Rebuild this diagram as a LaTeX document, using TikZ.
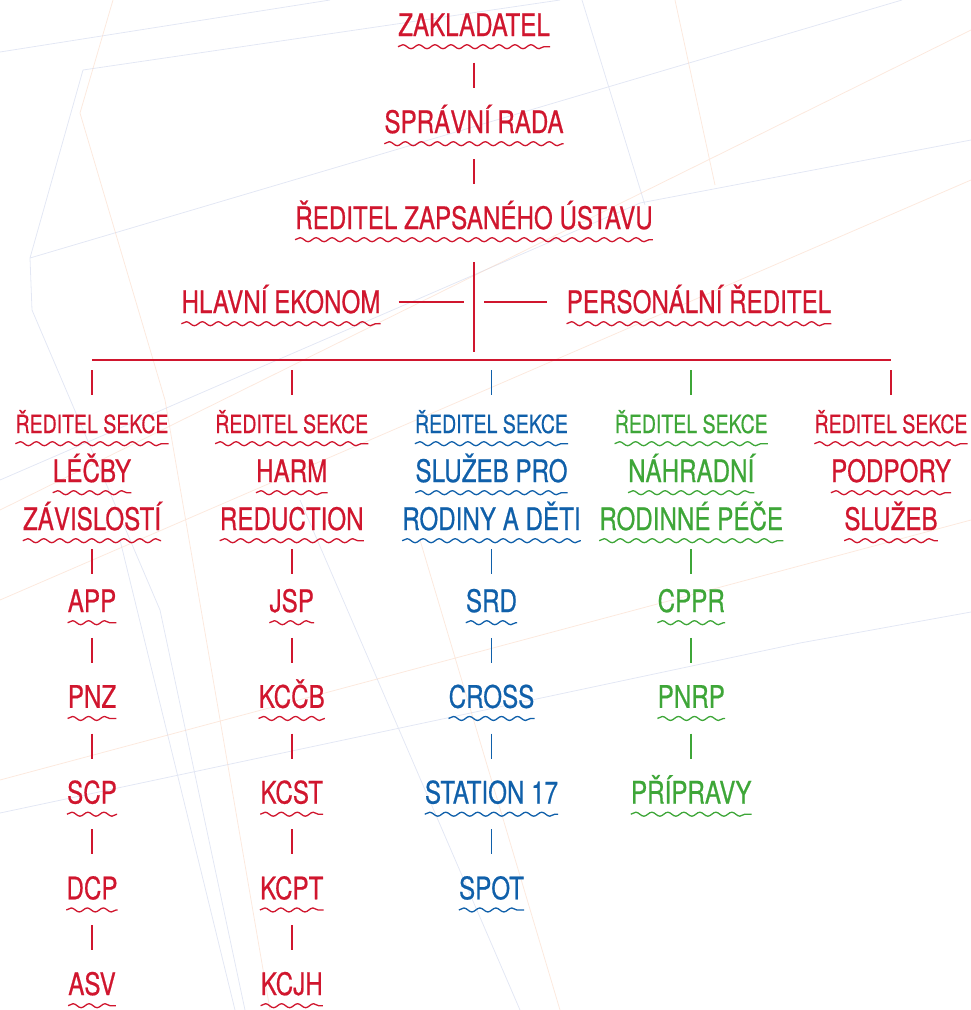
\documentclass[tikz,border=0pt]{standalone}
\usepackage{fontspec}
\setmainfont{TeX Gyre Heros}[FakeStretch=0.78, FakeBold=0.6]
\usetikzlibrary{decorations.pathmorphing,calc}

\definecolor{orgred}{RGB}{208,22,46}
\definecolor{orgblue}{RGB}{16,96,170}
\definecolor{orggreen}{RGB}{62,166,56}
\definecolor{bgblue}{RGB}{200,208,234}
\definecolor{bgorange}{RGB}{249,212,190}

\begin{document}
\begin{tikzpicture}[x=1pt, y=-1pt, declare function={dx=199.75; cx=474;},
  big/.style={anchor=base, inner sep=0pt, text height=22pt, text depth=0pt,
              font=\fontsize{31}{31}\selectfont},
  small/.style={big, text height=17pt, font=\fontsize{25}{25}\selectfont},
  wave/.style={decorate, decoration={snake, segment length=16pt, amplitude=2pt},
               line width=1.3pt},
  link/.style={line width=1.8pt}]

\useasboundingbox (0,0) rectangle (971,1010);

% 0. faint lines in the back
\begin{scope}[line width=.8pt, opacity=.5]
  \draw[bgblue] (0,52) -- (330,0)
                (83,70) -- (560,0)
                (83,70) -- (30,258) -- (32,310) -- (160,610) -- (245,1010)
                (30,258) -- (902,0)
                (0,480) -- (640,203) -- (971,140)
                (0,813) -- (800,643) -- (971,612)
                (582,0) -- (645,205)
                (120,540) -- (235,1010)
                (300,500) -- (520,1010);
  \draw[bgorange] (113,0) -- (80,113) -- (165,400) -- (270,1010)
                  (0,510) -- (971,30)
                  (0,600) -- (971,180)
                  (675,0) -- (715,185)
                  (0,780) -- (971,520)
                  (420,540) -- (560,1010);
\end{scope}

% 1. top of the chart
\begin{scope}[orgred]
  \node[big] (zakl)  at (cx,36)  {ZAKLADATEL};
  \node[big] (rada)  at (cx,133) {SPRÁVNÍ RADA};
  \node[big] (redit) at (cx,229) {ŘEDITEL ZAPSANÉHO ÚSTAVU};
  \node[big] (ekon)  at (281,313) {HLAVNÍ EKONOM};
  \node[big] (pers)  at (699,313) {PERSONÁLNÍ ŘEDITEL};
  \foreach \n in {zakl,rada,redit,ekon,pers}
    \draw[wave] ($(\n.south west)+(0,10.5)$) -- ($(\n.south east)+(0,10.5)$);

  % 1.1. links between them
  \draw[link] ($(zakl.south)!.5!(rada.north)$) ++(0,-11) -- ++(0,25);
  \draw[link] ($(rada.south)!.5!(redit.north)$) ++(0,-11) -- ++(0,25);
  \coordinate (stemtop) at ($(redit.south)+(0,33)$);
  \coordinate (stembot) at (cx,352);
  \draw[link] (stemtop) -- (stembot);
  \draw[link, shorten <=18pt, shorten >=10pt] (ekon.east) -- (ekon.east -| stemtop);
  \draw[link, shorten <=20pt, shorten >=10pt] (pers.west) -- (pers.west -| stemtop);
\end{scope}

% 2. the bar and the five sections
\foreach \i in {1,...,5}
  \coordinate (col\i) at ({92+(\i-1)*dx},360);
\draw[orgred, line width=1.5pt] (col1) -- (col5);

\foreach \i/\clr/\a/\b in {1/orgred/LÉČBY/ZÁVISLOSTÍ, 2/orgred/HARM/REDUCTION,
                           3/orgblue/SLUŽEB PRO/RODINY A DĚTI,
                           4/orggreen/NÁHRADNÍ/RODINNÉ PÉČE, 5/orgred/PODPORY/SLUŽEB}{
  \node[small, \clr] (sek\i)  at ($(col\i)+(0,73)$)  {ŘEDITEL SEKCE};
  \node[big, \clr]   (sekA\i) at ($(col\i)+(0,122)$) {\a};
  \node[big, \clr]   (sekB\i) at ($(col\i)+(0,170)$) {\b};
  \draw[\clr, link] (col\i) ++(0,10) -- ++(0,25);
  \foreach \n in {sek\i,sekA\i,sekB\i}
    \draw[\clr, wave] ($(\n.south west)+(0,10.5)$) -- ($(\n.south east)+(0,10.5)$);
}

% 3. the units below each section
\foreach \i/\clr/\items in {1/orgred/{APP,PNZ,SCP,DCP,ASV},
                            2/orgred/{JSP,KCČB,KCST,KCPT,KCJH},
                            3/orgblue/{SRD,CROSS,STATION 17,SPOT},
                            4/orggreen/{CPPR,PNRP,PŘÍPRAVY}}{
  \foreach \lbl [count=\k, remember=\k as \j (initially 0)] in \items {
    \node[big, \clr] (sub\i-\k) at ($(col\i)+(0,{252+(\k-1)*95.75})$) {\lbl};
    \draw[\clr, wave] ($(sub\i-\k.south west)+(0,10.5)$) -- ($(sub\i-\k.south east)+(0,10.5)$);
    \ifnum\j=0 \def\prevnode{sekB\i}\else \def\prevnode{sub\i-\j}\fi
    \draw[\clr, link] ($(\prevnode.south)!.5!(sub\i-\k.north)$) ++(0,-11) -- ++(0,25);
  }
}
\end{tikzpicture}
\end{document}
